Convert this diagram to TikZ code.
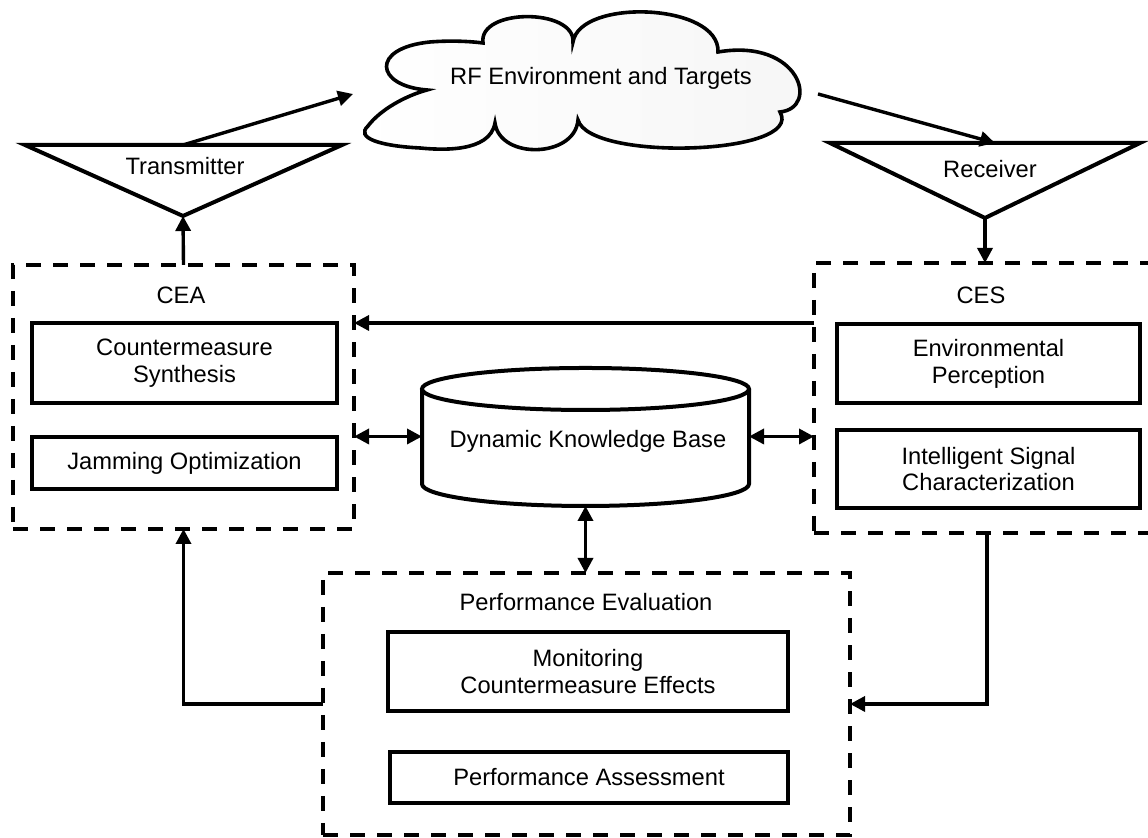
\documentclass[tikz,border=0pt]{standalone}
\usepackage{fontspec}
\setmainfont{Liberation Sans}
\usetikzlibrary{arrows.meta}
\begin{document}
\begin{tikzpicture}[x=0.5pt,y=0.5pt,
  every node/.style={font=\fontsize{11.85pt}{13.4pt}\selectfont, inner sep=0pt, outer sep=0pt, align=center},
  group/.style={draw, rectangle, dash pattern=on 7.5pt off 6pt, line width=2pt},
  unit/.style={draw, rectangle, line width=2pt},
  outline/.style={draw, line width=2pt, fill=white, line join=miter},
  arr/.style={line width=1.7pt, -{Triangle[length=7.5pt,width=7.5pt]}},
  dbl/.style={line width=1.7pt, {Triangle[length=7.5pt,width=7.5pt]}-{Triangle[length=7.5pt,width=7.5pt]}}]

\useasboundingbox (0,0) rectangle (1148,838);
\fill[white] (0,0) rectangle (1148,838);

% --- cloud: RF environment ---
\path[draw, line width=1.8pt, left color=white, right color=gray!7]
  (483,795) .. controls (478,830) and (575,830) .. (573,796)
            .. controls (580,840) and (720,835) .. (718,786)
            .. controls (800,800) and (820,730) .. (780,726)
            .. controls (805,683) and (590,676) .. (578,718)
            .. controls (575,680) and (500,678) .. (495,715)
            .. controls (490,685) and (440,688) .. (420,690)
            .. controls (380,692) and (355,700) .. (368,712)
            .. controls (380,728) and (405,742) .. (427,748)
            .. controls (375,752) and (370,790) .. (430,796)
            .. controls (455,798) and (475,796) .. (483,795) -- cycle;
\node (rf) at (601,760) {RF Environment and Targets};
\coordinate (clIn) at (353,744);
\coordinate (clOut) at (818,744);

% --- antennas ---
\coordinate (txL) at (25,693);
\coordinate (txR) at (342,693);
\coordinate (txA) at (183,622);
\draw[outline] (txL) -- (txR) -- (txA) -- cycle;
\node (tx) at (185,672) {Transmitter};

\coordinate (rxL) at (830,695);
\coordinate (rxR) at (1140,695);
\coordinate (rxA) at (985,620);
\draw[outline] (rxL) -- (rxR) -- (rxA) -- cycle;
\node (rx) at (990,669) {Receiver};
\coordinate (rxIn) at (995,695);

% --- functional groups ---
\node[group, minimum width=170.5pt, minimum height=132pt] (cea) at (183.5,441) {};
\node[group, minimum width=173pt, minimum height=135pt] (ces) at (987,440) {};
\node[group, minimum width=263.5pt, minimum height=131pt] (pe) at (586.5,134) {};

\node (ceaT) at (181,543) {CEA};
\node (cesT) at (981,543) {CES};
\node (peT) at (586,236) {Performance Evaluation};

\node[unit, minimum width=152.5pt, minimum height=40pt] (cs) at (184.5,475) {Countermeasure\\Synthesis};
\node[unit, minimum width=152.5pt, minimum height=26pt] (jo) at (184.5,375) {Jamming Optimization};
\node[unit, minimum width=151.5pt, minimum height=39.5pt] (ep) at (988.5,474.5) {Environmental\\Perception};
\node[unit, minimum width=151.5pt, minimum height=39pt] (isc) at (988.5,369) {Intelligent Signal\\Characterization};
\node[unit, minimum width=200pt, minimum height=39.5pt] (mce) at (588,166.5) {Monitoring\\Countermeasure Effects};
\node[unit, minimum width=199pt, minimum height=25.5pt] (pa) at (589,60.5) {Performance Assessment};

% --- knowledge base cylinder ---
\draw[line width=2pt, fill=white] (422,449) -- (422,354)
  arc[start angle=180, end angle=360, x radius=163.5, y radius=22] -- (749,449);
\draw[line width=2pt, fill=white] (585.5,449) ellipse [x radius=163.5, y radius=21];
\node[minimum width=163.5pt, minimum height=69.5pt] (kb) at (585.5,401.5) {};
\node (kbT) at (588,397) {Dynamic Knowledge Base};

% --- connectors ---
\draw[arr] (txA |- txL) -- (clIn);
\draw[arr] (clOut) -- (rxIn);
\draw[arr] (cea.north) -- (txA);
\draw[arr] (rxA) -- (rxA |- ces.north);
\draw[arr] (ces.west |- cs.north) -- (cea.east |- cs.north);
\draw[dbl] (cea.east |- kb.west) -- (kb.west);
\draw[dbl] (kb.east) -- (ces.west |- kb.east);
\draw[dbl] (kb.south) -- (kb.south |- pe.north);
\draw[arr] (pe.west) -| (cea.south);
\draw[arr] (ces.south) |- (pe.east);
\end{tikzpicture}
\end{document}
